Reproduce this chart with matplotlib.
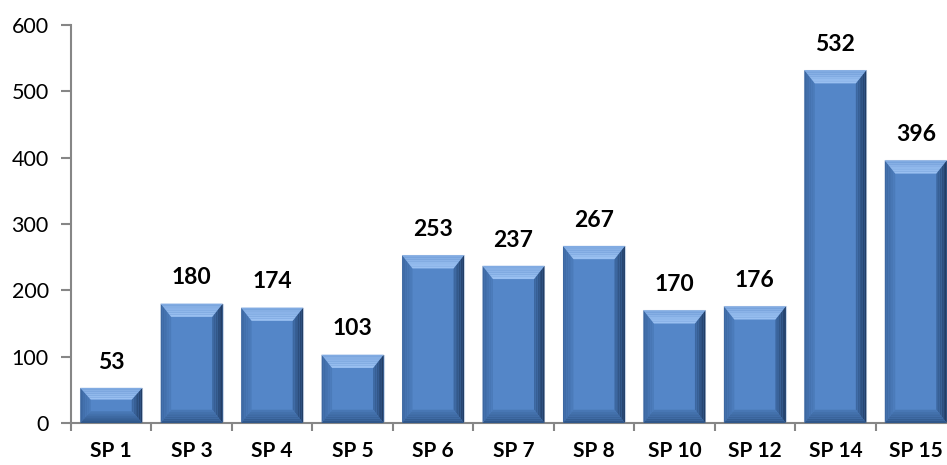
import matplotlib
matplotlib.use("Agg")
import matplotlib.pyplot as plt
from matplotlib.patches import Polygon
from matplotlib.colors import to_rgb
import numpy as np

categories = ["SP 1", "SP 3", "SP 4", "SP 5", "SP 6", "SP 7", "SP 8", "SP 10", "SP 12", "SP 14", "SP 15"]
values = [53, 180, 174, 103, 253, 237, 267, 170, 176, 532, 396]
yticks = [0, 100, 200, 300, 400, 500, 600]

plt.rcParams['font.family'] = ['Lato', 'DejaVu Sans']

fig = plt.figure(figsize=(9.47, 4.65), dpi=100)
ax = fig.add_axes([71/947, 42/465, 885/947, 398/465])

x = np.arange(len(categories))
width = 0.77
face = '#5486C8'
bars = ax.bar(x, values, width=width, color=face, edgecolor='#C9D6E8', linewidth=0.8, zorder=2)

ax.set_xlim(-0.5, len(categories) - 0.5)
ax.set_ylim(0, 600)


def mix(c1, c2, t):
    a = np.array(to_rgb(c1)); b = np.array(to_rgb(c2))
    return tuple(a + (b - a) * t)


def graded(outer_pts, inner_pts, c_out, c_in, n=6):
    # outer_pts: edge pair at outside, inner_pts: edge pair at inside
    (o1, o2), (i1, i2) = outer_pts, inner_pts
    o1 = np.array(o1); o2 = np.array(o2); i1 = np.array(i1); i2 = np.array(i2)
    for k in range(n):
        t0 = k / n; t1 = (k + 1) / n
        p = [o1 + (i1 - o1) * t0, o2 + (i2 - o2) * t0, o2 + (i2 - o2) * t1, o1 + (i1 - o1) * t1]
        ax.add_patch(Polygon(p, closed=True, facecolor=mix(c_out, c_in, (t0 + t1) / 2),
                             edgecolor='none', zorder=3))


bx = 0.13
by = 20
for b in bars:
    x0 = b.get_x(); x1 = x0 + b.get_width(); h = b.get_height()
    byy = min(by, h / 3)
    bxx = bx
    # left bevel
    graded(((x0, 0), (x0, h)), ((x0 + bxx, byy), (x0 + bxx, h - byy)), '#3A659E', '#4C7DBD')
    # right bevel
    graded(((x1, 0), (x1, h)), ((x1 - bxx, byy), (x1 - bxx, h - byy)), '#1F3A60', '#3F6BA6')
    # bottom bevel
    graded(((x0, 0), (x1, 0)), ((x0 + bxx, byy), (x1 - bxx, byy)), '#2E5486', '#4A7AB8')
    # top bevel
    graded(((x0, h), (x1, h)), ((x0 + bxx, h - byy), (x1 - bxx, h - byy)), '#7FA9E0', '#9CC2F2')
    ax.annotate(f"{int(h)}", (b.get_x() + b.get_width() / 2, h), xytext=(0, 11),
                textcoords='offset points', ha='center', va='bottom',
                fontsize=16.5, fontweight='bold', color='black')

for s in ['top', 'right']:
    ax.spines[s].set_visible(False)
for s in ['left', 'bottom']:
    ax.spines[s].set_color('#868686')
    ax.spines[s].set_linewidth(1.5)

ax.set_yticks(yticks)
ax.set_yticklabels([str(v) for v in yticks], fontsize=15.5)
ax.tick_params(axis='y', direction='out', length=7, width=1.5, color='#868686', pad=9)

ax.set_xticks(x)
ax.set_xticklabels(categories, fontsize=15, fontweight='bold')
ax.tick_params(axis='x', which='major', length=0, pad=13)
ax.set_xticks(np.arange(len(categories) + 1) - 0.5, minor=True)
ax.tick_params(axis='x', which='minor', direction='out', length=6, width=1.5, color='#868686')

fig.savefig('out.png', dpi=100)
